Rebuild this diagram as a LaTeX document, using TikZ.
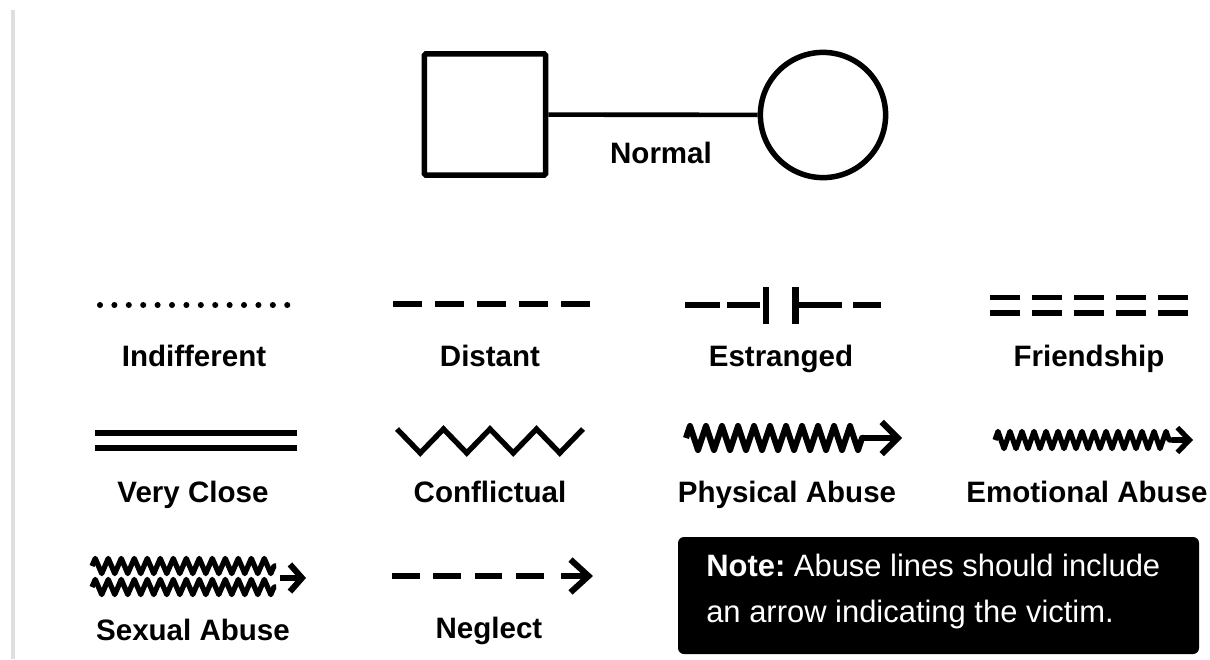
\documentclass[tikz,border=0pt]{standalone}
\usepackage{fontspec}
\setmainfont{Liberation Sans}
\usetikzlibrary{arrows.meta,decorations.pathmorphing}

\tikzset{
  person/.style={draw, line width=3.9pt, inner sep=0pt},
  legline/.style={line width=4.3pt},
  thinline/.style={line width=3.7pt},
  wavy/.style={line join=round, decorate},
  lbl/.style={font=\bfseries\fontsize{21}{25}\selectfont, anchor=base},
  notetext/.style={font=\fontsize{22}{26}\selectfont, text=white, anchor=base west, inner sep=0pt},
}

\begin{document}
\begin{tikzpicture}[x=0.025cm, y=-0.025cm]
        \useasboundingbox (0,0) rectangle (1210,659);
        % Left rule
        \draw[gray!25, line width=2.2pt] (13,10) -- (13,659);

        % Define the vertices for the couple
        \node[person, rectangle, minimum size=3.03cm, rounded corners=1pt] (male) at (485,114.5) {};
        \node[person, circle, minimum size=3.13cm] (female) at (823,115) {};

        % Define the edge for the couple
        \draw[line width=3.3pt] (male) -- (female);
        \node[lbl] (normal) at (661,163) {Normal};

        % Define the lines for row 1
        \coordinate (ind-a) at (100,305);
        \coordinate (ind-b) at (287.5,305);
        \draw[legline, line cap=round, dash pattern=on 0pt off 0.36cm] (ind-a) -- (ind-b);

        \coordinate (dis-a) at (393,304);
        \coordinate (dis-b) at (590,304);
        \draw[line width=4.6pt, dash pattern=on 0.725cm off 0.325cm] (dis-a) -- (dis-b);

        \coordinate (est-a) at (685,305);
        \coordinate (est-b) at (881,305);
        \draw[legline, dash pattern=on 0.875cm off 0.175cm on 0.825cm off 0.95cm on 1.1cm off 0.275cm on 0.7cm] (est-a) -- (est-b);
        \coordinate (bar1-t) at (766,287);
        \coordinate (bar1-b) at (766,324);
        \coordinate (bar2-t) at (795.5,287);
        \coordinate (bar2-b) at (795.5,324);
        \draw[legline] (bar1-t) -- (bar1-b);
        \draw[legline] (bar2-t) -- (bar2-b);

        \coordinate (fri-a) at (990,297.5);
        \coordinate (fri-b) at (1188,297.5);
        \coordinate (fri-c) at (990,313);
        \coordinate (fri-d) at (1188,313);
        \draw[line width=4pt, dash pattern=on 0.75cm off 0.3cm] (fri-a) -- (fri-b);
        \draw[line width=4pt, dash pattern=on 0.75cm off 0.3cm] (fri-c) -- (fri-d);

        % Annotations for row 1
        \node[lbl] (indifferent) at (194,366) {Indifferent};
        \node[lbl] (distant) at (490,366) {Distant};
        \node[lbl] (estranged) at (781,366) {Estranged};
        \node[lbl] (friendship) at (1089,366) {Friendship};

        % Define the lines for row 2
        \coordinate (vc-a) at (95,433);
        \coordinate (vc-b) at (297,433);
        \coordinate (vc-c) at (95,448);
        \coordinate (vc-d) at (297,448);
        \draw[legline] (vc-a) -- (vc-b);
        \draw[legline] (vc-c) -- (vc-d);

        \coordinate (con-a) at (397,429);
        \draw[line width=3.8pt] (con-a) -- ++(23.25,24) -- ++(23.25,-24) -- ++(23.25,24) -- ++(23.25,-24)
            -- ++(23.25,24) -- ++(23.25,-24) -- ++(23.25,24) -- ++(23.25,-24);

        \coordinate (phy-a) at (686,438);
        \coordinate (phy-b) at (864,438);
        \coordinate (phy-c) at (902,438);
        \draw[legline, wavy, decoration={zigzag, segment length=0.4cm, amplitude=0.3cm}] (phy-a) -- (phy-b);
        \draw[legline, -{Straight Barb[length=0.4cm, width=0.8cm]}] (phy-b) -- (phy-c);

        \coordinate (emo-a) at (995,440);
        \coordinate (emo-b) at (1172,440);
        \coordinate (emo-c) at (1193,440);
        \draw[thinline, wavy, decoration={zigzag, segment length=0.3cm, amplitude=0.215cm}] (emo-a) -- (emo-b);
        \draw[thinline, -{Straight Barb[length=0.3cm, width=0.62cm]}] (emo-b) -- (emo-c);

        % Annotations for row 2
        \node[lbl] (veryclose) at (193,502) {Very Close};
        \node[lbl] (conflictual) at (490,502) {Conflictual};
        \node[lbl] (physical) at (787,502) {Physical Abuse};
        \node[lbl] (emotional) at (1087,502) {Emotional Abuse};

        % Define the lines for row 3
        \coordinate (sex-a) at (92,566);
        \coordinate (sex-b) at (276,566);
        \coordinate (sex-c) at (92,587);
        \coordinate (sex-d) at (276,587);
        \coordinate (sex-e) at (280,578);
        \coordinate (sex-f) at (306,578);
        \draw[thinline, wavy, decoration={zigzag, segment length=0.325cm, amplitude=0.19cm}] (sex-a) -- (sex-b);
        \draw[thinline, wavy, decoration={zigzag, segment length=0.325cm, amplitude=0.19cm}] (sex-c) -- (sex-d);
        \draw[legline, -{Straight Barb[length=0.3cm, width=0.68cm]}] (sex-e) -- (sex-f);

        \coordinate (neg-a) at (392,576);
        \coordinate (neg-b) at (545,576);
        \coordinate (neg-c) at (561,576);
        \coordinate (neg-d) at (593,576);
        \draw[legline, dash pattern=on 0.69cm off 0.345cm] (neg-a) -- (neg-b);
        \draw[legline, -{Straight Barb[length=0.45cm, width=0.82cm]}] (neg-c) -- (neg-d);

        % Annotations for row 3
        \node[lbl] (sexual) at (193,640) {Sexual Abuse};
        \node[lbl] (neglect) at (489,638) {Neglect};

        % Note box
        \fill[black, rounded corners=0.15cm] (678,537) rectangle (1199,654);
        \node[notetext] (note1) at (706,576) {\textbf{Note:}~Abuse lines should include};
        \node[notetext] (note2) at (706,622) {an arrow indicating the victim.};
\end{tikzpicture}
\end{document}
